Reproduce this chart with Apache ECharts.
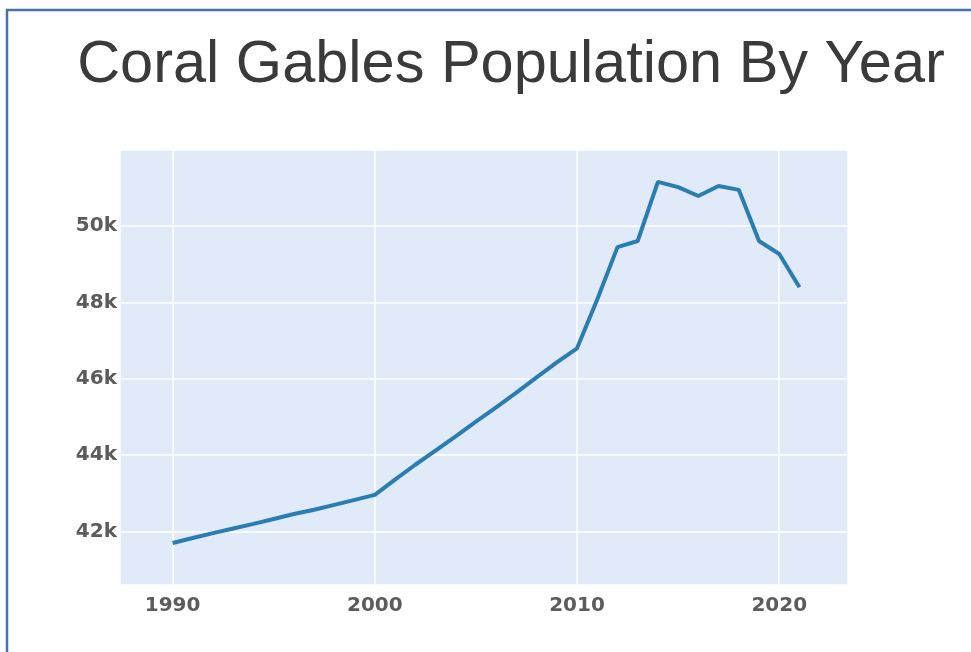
<!DOCTYPE html>
<html>
<head>
<meta charset="utf-8">
<script src="https://cdn.jsdelivr.net/npm/echarts@6/dist/echarts.min.js"></script>
<style>
html,body{margin:0;padding:0;background:#fff;}
#chart{width:971px;height:652px;}
</style>
</head>
<body>
<div id="chart"></div>
<script>
const titleText = 'Coral Gables Population By Year';
const years = [1990,1991,1992,1993,1994,1995,1996,1997,1998,1999,2000,2001,2002,2003,2004,2005,2006,2007,2008,2009,2010,2011,2012,2013,2014,2015,2016,2017,2018,2019,2020,2021];
const population = [41700,41830,41960,42080,42200,42330,42460,42570,42700,42830,42960,43360,43750,44120,44490,44880,45250,45640,46040,46430,46800,48080,49450,49610,51160,51020,50790,51050,50950,49610,49270,48400];
const xTickYears = [1990,2000,2010,2020];
const yTickValues = [42000,44000,46000,48000,50000];

const chart = echarts.init(document.getElementById('chart'), null, {renderer:'canvas'});
const labelStyle = {color:'#5c5c5c', fontFamily:'DejaVu Sans', fontSize:20, fontWeight:'bold'};
chart.setOption({
  animation:false,
  backgroundColor:'#ffffff',
  title:{
    text:titleText,
    left:506, top:31, textAlign:'center',
    textStyle:{fontFamily:'Liberation Sans', fontSize:59.5, fontWeight:'normal', color:'#3a3a3a'}
  },
  graphic:[{
    type:'polyline',
    shape:{points:[[7,652],[7,10],[971,10]]},
    style:{stroke:'#4a70ad', lineWidth:2.5, fill:null},
    silent:true
  }],
  grid:{left:120, right:123, top:149, bottom:67, show:true, backgroundColor:'#e0eaf8', borderWidth:0},
  xAxis:{
    type:'value', min:1987.4, max:2023.4,
    axisLine:{show:false}, axisTick:{show:false},
    splitLine:{show:true, lineStyle:{color:'#ffffff', width:1.5}},
    axisLabel:{...labelStyle, margin:11, showMinLabel:false, showMaxLabel:false,
      formatter:function(v){ return xTickYears.indexOf(Math.round(v*10)/10) >= 0 ? String(v) : ''; }}
  },
  yAxis:{
    type:'value', min:40600, max:52020,
    axisLine:{show:false}, axisTick:{show:false},
    splitLine:{show:true, lineStyle:{color:'#ffffff', width:1.5}},
    axisLabel:{...labelStyle, margin:3, showMinLabel:false, showMaxLabel:false,
      formatter:function(v){ return yTickValues.indexOf(v) >= 0 ? (v/1000)+'k' : ''; }}
  },
  series:[{
    type:'line',
    data:years.map((y,i)=>[y,population[i]]),
    showSymbol:false,
    lineStyle:{color:'#2a7db3', width:4},
    itemStyle:{color:'#2a7db3'}
  }]
});
</script>
</body>
</html>
